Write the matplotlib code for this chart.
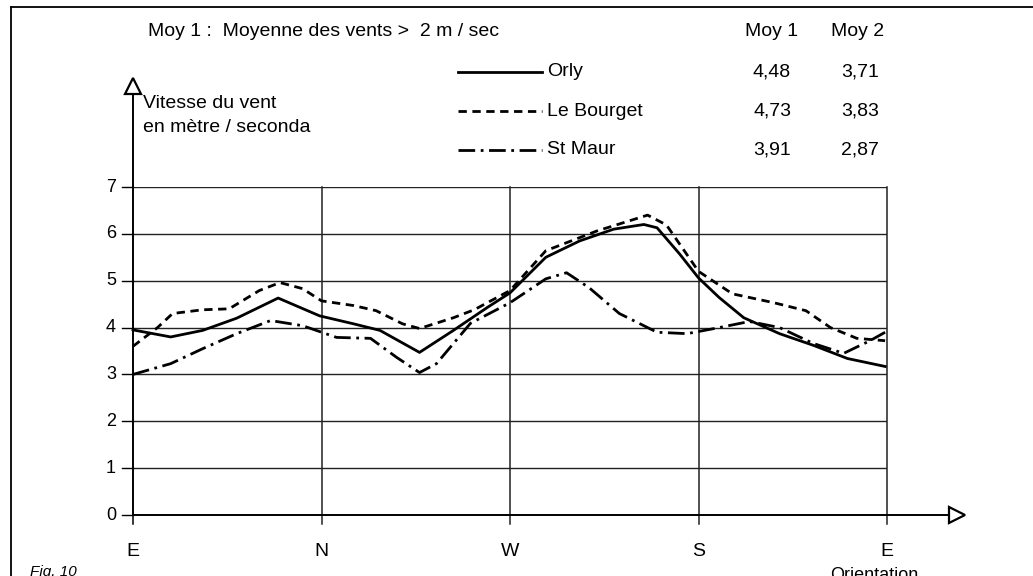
# Vitesse du vent selon l'orientation - Orly, Le Bourget, St Maur (fig. 10)

import matplotlib.pyplot as plt

# ------------------------------------------------------------
# Données (x : 0=E, 1=N, 2=W, 3=S, 4=E)
# ------------------------------------------------------------

directions = ["E", "N", "W", "S", "E"]
graduations = [0, 1, 2, 3, 4, 5, 6, 7]

orly_x = [0.0, 0.2, 0.37, 0.55, 0.77, 0.99, 1.17, 1.31, 1.52, 1.70, 1.88, 2.0,
          2.19, 2.37, 2.55, 2.71, 2.78, 2.9, 3.0, 3.11, 3.24, 3.43, 3.61, 3.79, 3.99]
orly_y = [3.95, 3.8, 3.94, 4.2, 4.63, 4.25, 4.08, 3.94, 3.47, 3.94, 4.43, 4.74,
          5.5, 5.85, 6.1, 6.2, 6.13, 5.57, 5.06, 4.64, 4.21, 3.87, 3.62, 3.34, 3.17]

bourget_x = [0.0, 0.13, 0.21, 0.37, 0.51, 0.67, 0.78, 0.9, 1.0, 1.17, 1.29, 1.43,
             1.52, 1.70, 1.81, 2.0, 2.19, 2.46, 2.73, 2.83, 3.0, 3.18, 3.4, 3.57,
             3.7, 3.84, 3.99]
bourget_y = [3.6, 4.0, 4.3, 4.38, 4.4, 4.79, 4.96, 4.83, 4.57, 4.47, 4.36, 4.08,
             3.98, 4.21, 4.38, 4.79, 5.64, 6.06, 6.4, 6.19, 5.2, 4.72, 4.53, 4.36,
             4.0, 3.77, 3.72]

maur_x = [0.0, 0.2, 0.37, 0.55, 0.73, 0.9, 1.08, 1.26, 1.4, 1.52, 1.61, 1.79, 2.0,
          2.19, 2.3, 2.42, 2.58, 2.78, 2.94, 3.11, 3.27, 3.43, 3.61, 3.77, 3.91, 3.99]
maur_y = [3.0, 3.23, 3.55, 3.87, 4.15, 4.04, 3.79, 3.77, 3.36, 3.04, 3.23, 4.09, 4.53,
          5.04, 5.17, 4.85, 4.3, 3.9, 3.87, 4.0, 4.13, 4.0, 3.66, 3.45, 3.72, 3.9]

stations = ["Orly", "Le Bourget", "St Maur"]
moy1 = ["4,48", "4,73", "3,91"]
moy2 = ["3,71", "3,83", "2,87"]
styles = ["-", (0, (3, 2)), (0, (6, 2, 1, 2))]

W, H = 1033, 576
plt.rcParams["font.family"] = ["Liberation Sans", "DejaVu Sans"]

fig = plt.figure(figsize=(W / 100, H / 100), dpi=100)

# calque en pixels pour le cadre et les textes
ov = fig.add_axes([0, 0, 1, 1])
ov.set_xlim(0, W)
ov.set_ylim(H, 0)
ov.axis("off")

# zone du graphique
ax = fig.add_axes([133 / W, (H - 515) / H, 754 / W, 328 / H])
ax.set_xlim(0, 4)
ax.set_ylim(0, 7)
ax.axis("off")

# cadre de la figure
ov.plot([11, 11], [7, H], color="black", lw=1.3)
ov.plot([11, W], [7, 7], color="black", lw=1.3)

# quadrillage
for v in graduations[1:]:
    ax.plot([0, 4], [v, v], color="#222222", lw=1.0)
    ax.plot([-0.06, 0], [v, v], color="black", lw=1.0, clip_on=False)
for i in range(1, len(directions)):
    ax.plot([i, i], [-0.2, 7], color="#222222", lw=1.1, clip_on=False)
ax.plot([0, 0], [-0.2, 0], color="black", lw=1.1, clip_on=False)
ax.plot([-0.06, 0], [0, 0], color="black", lw=1.0, clip_on=False)

# axes fléchés
ax.plot([0, 0], [0, 9.0], color="black", lw=1.4, clip_on=False)
ax.plot(0, 9.15, marker="^", ms=11, mfc="white", mec="black", mew=1.6, clip_on=False)
ax.plot([0, 4.32], [0, 0], color="black", lw=1.4, clip_on=False)
ax.plot(4.37, 0, marker=">", ms=11, mfc="white", mec="black", mew=1.6, clip_on=False)

# graduations
for v in graduations:
    ax.text(-0.09, v, str(v), ha="right", va="center", fontsize=13)
for i, d in enumerate(directions):
    ax.text(i, -0.78, d, ha="center", va="center", fontsize=14)

# courbes
ax.plot(orly_x, orly_y, color="black", lw=2.0, linestyle=styles[0], clip_on=False)
ax.plot(bourget_x, bourget_y, color="black", lw=2.0, linestyle=styles[1], clip_on=False)
ax.plot(maur_x, maur_y, color="black", lw=2.0, linestyle=styles[2], clip_on=False)

# titres et légende
ov.text(148, 32, "Moy 1 :  Moyenne des vents >  2 m / sec", ha="left", va="center", fontsize=14)
ov.text(772, 32, "Moy 1", ha="center", va="center", fontsize=14)
ov.text(858, 32, "Moy 2", ha="center", va="center", fontsize=14)
ov.text(143, 104, "Vitesse du vent", ha="left", va="center", fontsize=14)
ov.text(143, 128, "en mètre / seconda", ha="left", va="center", fontsize=14)

rows = [72, 111, 150]
for k, nom in enumerate(stations):
    y = rows[k]
    ov.plot([458, 542], [y, y], color="black", lw=2.0, linestyle=styles[k])
    ov.text(547, y, nom, ha="left", va="center", fontsize=14)
    ov.text(772, y, moy1[k], ha="center", va="center", fontsize=14)
    ov.text(860, y, moy2[k], ha="center", va="center", fontsize=14)

ov.text(30, 572, "Fig. 10", ha="left", va="center", fontsize=11, style="italic")
ov.text(830, 576, "Orientation", ha="left", va="center", fontsize=13)

plt.savefig("out.png", dpi=100)
plt.close()
